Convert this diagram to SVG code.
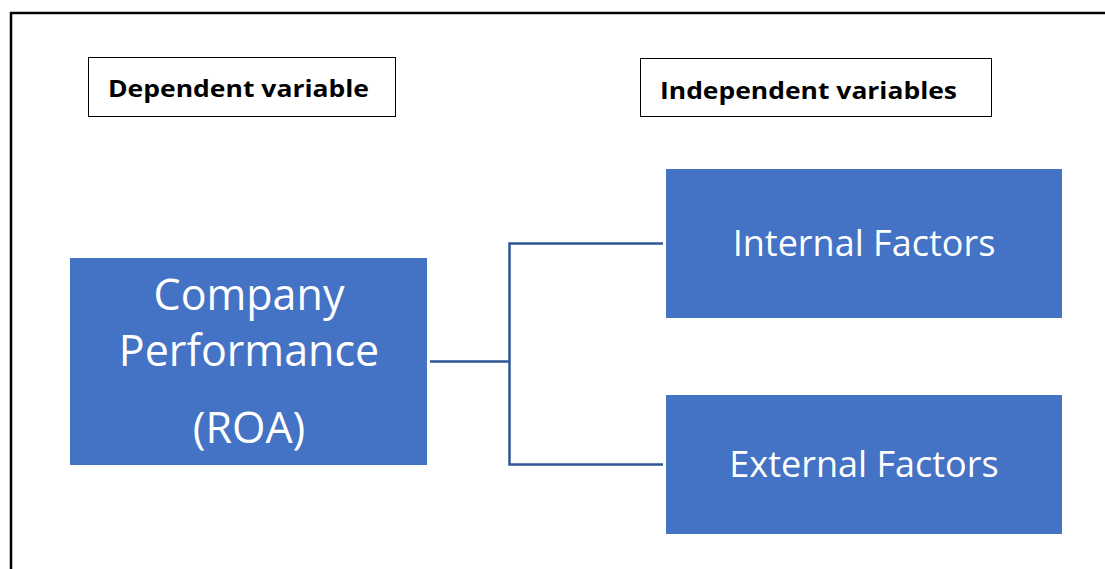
<svg xmlns="http://www.w3.org/2000/svg" width="1105" height="569" viewBox="0 0 1105 569">
<style>
.lbl{fill:#fff;stroke:#000;stroke-width:1}
.lt{font-family:"Open Sans","Liberation Sans",sans-serif;font-weight:bold;font-size:24px;fill:#000}
.blk{fill:#4472C4}
.bt{font-family:"Open Sans","Liberation Sans",sans-serif;font-size:36px;fill:#fff;text-anchor:middle}
.big{font-size:43px}
.con{fill:none;stroke:#2F5597;stroke-width:2.5}
</style>
<rect width="1105" height="569" fill="#fff"/>
<path d="M11,569 V13 H1105" fill="none" stroke="#000" stroke-width="2.5"/>
<g id="dependent-label">
<rect class="lbl" x="88.5" y="57.5" width="307" height="59"/>
<text class="lt" x="108" y="97" textLength="261" lengthAdjust="spacingAndGlyphs">Dependent variable</text>
</g>
<g id="independent-label">
<rect class="lbl" x="640.5" y="58.5" width="351" height="58"/>
<text class="lt" x="660" y="99" textLength="297" lengthAdjust="spacingAndGlyphs">Independent variables</text>
</g>
<g id="company">
<rect class="blk" x="70" y="258" width="357" height="207"/>
<text class="bt big" x="249" y="310">Company</text>
<text class="bt big" x="249" y="366">Performance</text>
<text class="bt big" x="249" y="443">(ROA)</text>
</g>
<g id="internal">
<rect class="blk" x="666" y="169" width="396" height="149"/>
<text class="bt" x="864" y="256">Internal Factors</text>
</g>
<g id="external">
<rect class="blk" x="666" y="395" width="396" height="139"/>
<text class="bt" x="864" y="477">External Factors</text>
</g>
<g id="connectors">
<path class="con" d="M430,361.5 H509.5"/>
<path class="con" d="M663,243.5 H509.5 V464.5 H663"/>
</g>
</svg>
